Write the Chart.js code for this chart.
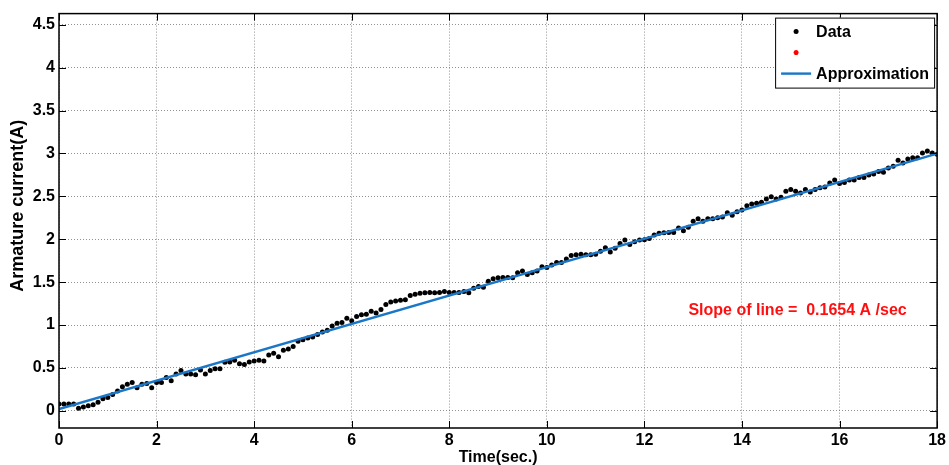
<!DOCTYPE html>
<html>
<head>
<meta charset="utf-8">
<title>Armature current</title>
<script src="https://cdn.jsdelivr.net/npm/chart.js@4.4.1/dist/chart.umd.min.js"></script>
<style>
  html, body { margin: 0; padding: 0; background: #fff; }
  #wrap { width: 949px; height: 465px; }
</style>
</head>
<body>
<div id="wrap"><canvas id="currentChart" width="949" height="465"></canvas></div>
<script>
// sample times (s)
const timeSec = [
  0.0, 0.1, 0.2, 0.3, 0.4, 0.5, 0.6, 0.7, 0.8, 0.9,
  1.0, 1.1, 1.2, 1.3, 1.4, 1.5, 1.6, 1.7, 1.8, 1.9,
  2.0, 2.1, 2.2, 2.3, 2.4, 2.5, 2.6, 2.7, 2.8, 2.9,
  3.0, 3.1, 3.2, 3.3, 3.4, 3.5, 3.6, 3.7, 3.8, 3.9,
  4.0, 4.1, 4.2, 4.3, 4.4, 4.5, 4.6, 4.7, 4.8, 4.9,
  5.0, 5.1, 5.2, 5.3, 5.4, 5.5, 5.6, 5.7, 5.8, 5.9,
  6.0, 6.1, 6.2, 6.3, 6.4, 6.5, 6.6, 6.7, 6.8, 6.9,
  7.0, 7.1, 7.2, 7.3, 7.4, 7.5, 7.6, 7.7, 7.8, 7.9,
  8.0, 8.1, 8.2, 8.3, 8.4, 8.5, 8.6, 8.7, 8.8, 8.9,
  9.0, 9.1, 9.2, 9.3, 9.4, 9.5, 9.6, 9.7, 9.8, 9.9,
  10.0, 10.1, 10.2, 10.3, 10.4, 10.5, 10.6, 10.7, 10.8, 10.9,
  11.0, 11.1, 11.2, 11.3, 11.4, 11.5, 11.6, 11.7, 11.8, 11.9,
  12.0, 12.1, 12.2, 12.3, 12.4, 12.5, 12.6, 12.7, 12.8, 12.9,
  13.0, 13.1, 13.2, 13.3, 13.4, 13.5, 13.6, 13.7, 13.8, 13.9,
  14.0, 14.1, 14.2, 14.3, 14.4, 14.5, 14.6, 14.7, 14.8, 14.9,
  15.0, 15.1, 15.2, 15.3, 15.4, 15.5, 15.6, 15.7, 15.8, 15.9,
  16.0, 16.1, 16.2, 16.3, 16.4, 16.5, 16.6, 16.7, 16.8, 16.9,
  17.0, 17.1, 17.2, 17.3, 17.4, 17.5, 17.6, 17.7, 17.8, 17.9,
  18.0
];

// measured armature current (A)
const armatureCurrent = [
  0.08, 0.08, 0.08, 0.08, 0.03, 0.045, 0.06, 0.07, 0.10, 0.14,
  0.155, 0.19, 0.23, 0.28, 0.31, 0.33, 0.27, 0.31, 0.32, 0.27,
  0.33, 0.33, 0.39, 0.35, 0.43, 0.47, 0.43, 0.43, 0.42, 0.475,
  0.43, 0.47, 0.49, 0.49, 0.565, 0.57, 0.59, 0.55, 0.54, 0.57,
  0.58, 0.59, 0.58, 0.65, 0.67, 0.63, 0.705, 0.72, 0.75, 0.81,
  0.83, 0.85, 0.86, 0.89, 0.92, 0.94, 0.99, 1.02, 1.03, 1.08,
  1.05, 1.10, 1.12, 1.125, 1.16, 1.14, 1.18, 1.24, 1.27, 1.28,
  1.29, 1.295, 1.345, 1.36, 1.37, 1.375, 1.38, 1.375, 1.38, 1.39,
  1.38, 1.38, 1.38, 1.39, 1.375, 1.43, 1.45, 1.44, 1.51, 1.54,
  1.55, 1.555, 1.555, 1.55, 1.61, 1.63, 1.59, 1.61, 1.63, 1.68,
  1.67, 1.70, 1.73, 1.73, 1.77, 1.81, 1.82, 1.825, 1.82, 1.82,
  1.825, 1.86, 1.90, 1.85, 1.895, 1.95, 1.99, 1.94, 1.97, 1.99,
  1.995, 2.01, 2.05, 2.07, 2.075, 2.08, 2.08, 2.13, 2.10, 2.14,
  2.21, 2.24, 2.21, 2.24, 2.24, 2.25, 2.26, 2.31, 2.28, 2.32,
  2.34, 2.39, 2.41, 2.42, 2.43, 2.47, 2.495, 2.47, 2.49, 2.56,
  2.58, 2.56, 2.54, 2.58, 2.55, 2.58, 2.60, 2.61, 2.655, 2.69,
  2.65, 2.66, 2.69, 2.69, 2.72, 2.72, 2.75, 2.76, 2.79, 2.78,
  2.83, 2.85, 2.92, 2.89, 2.935, 2.95, 2.95, 3.005, 3.03, 3.005,
  2.99
];

// fitted straight line
const fitSlope = 0.1654;
const fitIntercept = 0.02;
const fitTimes = [0, 18];

const xTicks = [0, 2, 4, 6, 8, 10, 12, 14, 16, 18];
const xTickLabels = ['0', '2', '4', '6', '8', '10', '12', '14', '16', '18'];
const yTicks = [0, 0.5, 1, 1.5, 2, 2.5, 3, 3.5, 4, 4.5];
const yTickLabels = ['0', '0.5', '1', '1.5', '2', '2.5', '3', '3.5', '4', '4.5'];
const yMin = -0.2;
const yMax = 4.63;

const seriesLabels = ['Data', '', 'Approximation'];
const xTitle = 'Time(sec.)';
const yTitle = 'Armature current(A)';
const slopeText = 'Slope of line =  ' + fitSlope.toFixed(4) + ' A /sec';

const FONT = '"Liberation Sans", Arial, Helvetica, sans-serif';
Chart.defaults.font.family = FONT;
Chart.defaults.color = '#000';

const dataPoints = timeSec.map((t, i) => ({ x: t, y: armatureCurrent[i] }));
const fitPoints = fitTimes.map(t => ({ x: t, y: fitIntercept + fitSlope * t }));

// box around the axes with inward ticks on every side
const axesBox = {
  id: 'axesBox',
  afterDatasetsDraw(chart) {
    const { ctx, chartArea: a, scales } = chart;
    const len = 7;
    ctx.save();
    ctx.strokeStyle = '#000';
    ctx.lineWidth = 1;
    scales.x.ticks.forEach(t => {
      const px = Math.round(scales.x.getPixelForValue(t.value)) + 0.5;
      ctx.beginPath();
      ctx.moveTo(px, a.bottom); ctx.lineTo(px, a.bottom - len);
      ctx.moveTo(px, a.top); ctx.lineTo(px, a.top + len);
      ctx.stroke();
    });
    scales.y.ticks.forEach(t => {
      const py = Math.round(scales.y.getPixelForValue(t.value)) + 0.5;
      ctx.beginPath();
      ctx.moveTo(a.left, py); ctx.lineTo(a.left + len, py);
      ctx.moveTo(a.right, py); ctx.lineTo(a.right - len, py);
      ctx.stroke();
    });
    ctx.lineWidth = 1.5;
    ctx.strokeRect(a.left, a.top, a.right - a.left, a.bottom - a.top);
    ctx.restore();
  }
};

// vertical axis title, sitting a little above the middle of the axis
const yAxisTitle = {
  id: 'yAxisTitle',
  afterDraw(chart) {
    const { ctx, chartArea: a } = chart;
    ctx.save();
    ctx.translate(18, (a.top + a.bottom) / 2 - 15);
    ctx.rotate(-Math.PI / 2);
    ctx.fillStyle = '#000';
    ctx.font = 'bold 18px ' + FONT;
    ctx.textAlign = 'center';
    ctx.textBaseline = 'middle';
    ctx.fillText(yTitle, 0, 0);
    ctx.restore();
  }
};

// legend box in the upper right corner
const boxLegend = {
  id: 'boxLegend',
  afterDraw(chart) {
    const { ctx, chartArea: a } = chart;
    const w = 159, h = 70;
    const x0 = a.right - 3 - w, y0 = a.top + 4;
    ctx.save();
    ctx.fillStyle = '#fff';
    ctx.fillRect(x0, y0, w, h);
    ctx.strokeStyle = '#000';
    ctx.lineWidth = 1;
    ctx.strokeRect(x0 + 0.5, y0 + 0.5, w, h);

    const rows = [y0 + 14, y0 + 35, y0 + 56];
    const markX = x0 + 21;
    chart.data.datasets.forEach((ds, i) => {
      const y = rows[i];
      if (ds.showLine) {
        ctx.strokeStyle = ds.borderColor;
        ctx.lineWidth = ds.borderWidth;
        ctx.beginPath();
        ctx.moveTo(markX - 15, y); ctx.lineTo(markX + 15, y);
        ctx.stroke();
      } else {
        ctx.fillStyle = ds.pointBackgroundColor;
        ctx.strokeStyle = ds.pointBorderColor;
        ctx.lineWidth = ds.pointBorderWidth;
        Chart.helpers.drawPoint(ctx, {
          pointStyle: ds.pointStyle, radius: ds.pointRadius,
          rotation: 0, borderWidth: ds.pointBorderWidth
        }, markX, y);
      }
      ctx.fillStyle = '#000';
      ctx.font = 'bold 16px ' + FONT;
      ctx.textBaseline = 'middle';
      ctx.fillText(ds.label, x0 + 41, y + 1);
    });
    ctx.restore();
  }
};

// slope annotation placed in data coordinates
const slopeNote = {
  id: 'slopeNote',
  afterDraw(chart) {
    const { ctx, scales } = chart;
    ctx.save();
    ctx.fillStyle = '#ff1010';
    ctx.font = 'bold 16px ' + FONT;
    ctx.textAlign = 'center';
    ctx.textBaseline = 'middle';
    ctx.fillText(slopeText, scales.x.getPixelForValue(15.14), scales.y.getPixelForValue(1.17));
    ctx.restore();
  }
};

new Chart(document.getElementById('currentChart'), {
  type: 'scatter',
  data: {
    datasets: [
      {
        label: seriesLabels[0],
        data: dataPoints,
        showLine: false,
        pointStyle: 'circle',
        pointRadius: 2.5,
        pointBorderWidth: 0,
        pointBackgroundColor: '#000',
        pointBorderColor: '#000',
        order: 2
      },
      {
        label: seriesLabels[1],
        data: [],
        showLine: false,
        pointStyle: 'star',
        pointRadius: 2.5,
        pointBorderWidth: 1.5,
        pointBackgroundColor: '#ff0000',
        pointBorderColor: '#ff0000',
        order: 3
      },
      {
        label: seriesLabels[2],
        data: fitPoints,
        showLine: true,
        borderColor: '#1a76c6',
        borderWidth: 2.4,
        pointRadius: 0,
        order: 1
      }
    ]
  },
  options: {
    responsive: false,
    animation: false,
    layout: { padding: { top: 12, right: 11, left: 0, bottom: 0 } },
    plugins: { legend: { display: false }, tooltip: { enabled: false } },
    scales: {
      x: {
        type: 'linear',
        min: 0,
        max: 18,
        afterBuildTicks: s => { s.ticks = xTicks.map(v => ({ value: v })); },
        afterFit: s => { s.height = 37; },
        ticks: {
          padding: 3,
          font: { size: 16, weight: 'bold' },
          callback: (v, i) => xTickLabels[i]
        },
        grid: { color: 'rgba(110,110,110,0.75)', lineWidth: 1, drawTicks: false },
        border: { display: false, dash: [1, 2] },
        title: {
          display: true,
          text: xTitle,
          font: { size: 16, weight: 'bold', lineHeight: 1 },
          padding: { top: 0, bottom: -1 }
        }
      },
      y: {
        type: 'linear',
        min: yMin,
        max: yMax,
        afterBuildTicks: s => { s.ticks = yTicks.map(v => ({ value: v })); },
        afterFit: s => { s.width = 59; },
        ticks: {
          padding: 4,
          font: { size: 16, weight: 'bold' },
          callback: (v, i) => yTickLabels[i]
        },
        grid: { color: 'rgba(110,110,110,0.75)', lineWidth: 1, drawTicks: false },
        border: { display: false, dash: [1, 2] },
        title: { display: false }
      }
    }
  },
  plugins: [axesBox, yAxisTitle, boxLegend, slopeNote]
});
</script>
</body>
</html>
